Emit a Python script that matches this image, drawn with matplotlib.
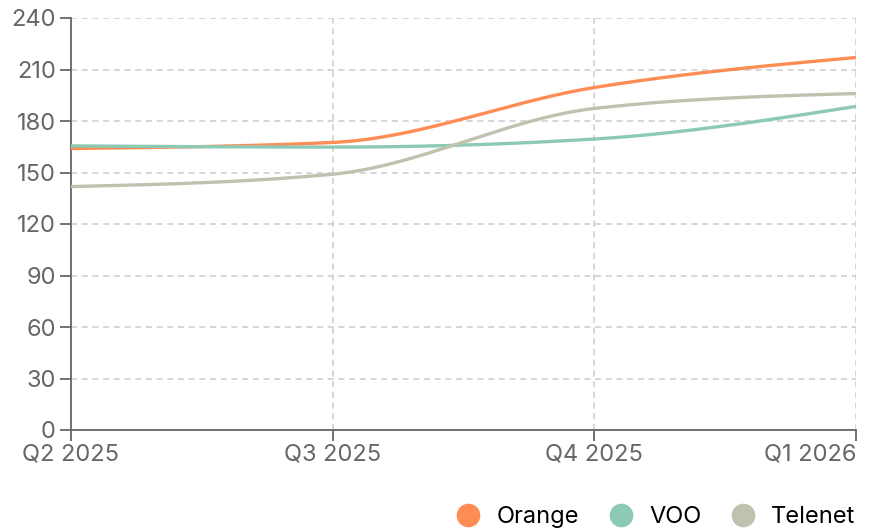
import numpy as np
import matplotlib
matplotlib.use("Agg")
import matplotlib.pyplot as plt
from matplotlib.lines import Line2D

quarters = ["Q2 2025", "Q3 2025", "Q4 2025", "Q1 2026"]
orange = [164, 167.5, 199.5, 217]
voo = [165.5, 164.8, 169.5, 188.5]
telenet = [141.8, 149, 187.3, 196]
series_names = ["Orange", "VOO", "Telenet"]
colors = ["#FD8D54", "#8CCAB6", "#C0C2B0"]
yticks = [0, 30, 60, 90, 120, 150, 180, 210, 240]

plt.rcParams['font.family'] = ['Inter', 'DejaVu Sans']


def monotone_x(x, y, n=60):
    x = np.asarray(x, float); y = np.asarray(y, float)
    h = np.diff(x); s = np.diff(y) / h
    m = np.zeros(len(x))
    for i in range(1, len(x) - 1):
        p = (s[i-1] * h[i] + s[i] * h[i-1]) / (h[i-1] + h[i])
        m[i] = (np.sign(s[i-1]) + np.sign(s[i])) * min(abs(s[i-1]), abs(s[i]), 0.5 * abs(p))
    m[0] = (3 * s[0] - m[1]) / 2
    m[-1] = (3 * s[-1] - m[-2]) / 2
    xs, ys = [], []
    for i in range(len(x) - 1):
        t = np.linspace(0, 1, n)
        h00 = 2*t**3 - 3*t**2 + 1; h10 = t**3 - 2*t**2 + t
        h01 = -2*t**3 + 3*t**2; h11 = t**3 - t**2
        xs.append(x[i] + t * h[i])
        ys.append(h00*y[i] + h10*h[i]*m[i] + h01*y[i+1] + h11*h[i]*m[i+1])
    return np.concatenate(xs), np.concatenate(ys)


fig = plt.figure(figsize=(8.73, 5.29), dpi=100)
ax = fig.add_axes([71/873, 99/529, (856-71)/873, (430-18)/529])

xpos = np.arange(len(quarters))
for vals, c in zip([orange, voo, telenet], colors):
    xs, ys = monotone_x(xpos, vals)
    ax.plot(xs, ys, color=c, lw=2.4, solid_capstyle='butt', zorder=3)

ax.set_xlim(0, len(quarters) - 1)
ax.set_ylim(0, 240)
ax.set_yticks(yticks)
ax.set_xticks(xpos)
ax.set_xticklabels(quarters)
labs = ax.get_xticklabels()
labs[-1].set_ha('right')

for y in yticks[1:]:
    ax.axhline(y, color='#CCCCCC', lw=1.1, ls=(0, (4, 3)), zorder=1)
for x in xpos[1:]:
    ax.axvline(x, color='#CCCCCC', lw=1.1, ls=(0, (4, 3)), zorder=1)

for sp in ['top', 'right']:
    ax.spines[sp].set_visible(False)
for sp in ['left', 'bottom']:
    ax.spines[sp].set_color('#666666')
    ax.spines[sp].set_linewidth(1.3)

ax.tick_params(axis='both', colors='#666666', labelcolor='#666666', labelsize=17,
               length=8, width=1.3)
ax.tick_params(axis='x', pad=2)
ax.tick_params(axis='y', pad=3)

handles = [Line2D([0], [0], marker='o', color='none', markerfacecolor=c,
                  markeredgecolor='none', markersize=17) for c in colors]
fig.legend(handles, series_names, loc='lower right', bbox_to_anchor=(1.004, -0.038),
           ncol=3, frameon=False, fontsize=17, handletextpad=0.7, columnspacing=1.25,
           handlelength=1.0)

fig.savefig("out.png", dpi=100)
